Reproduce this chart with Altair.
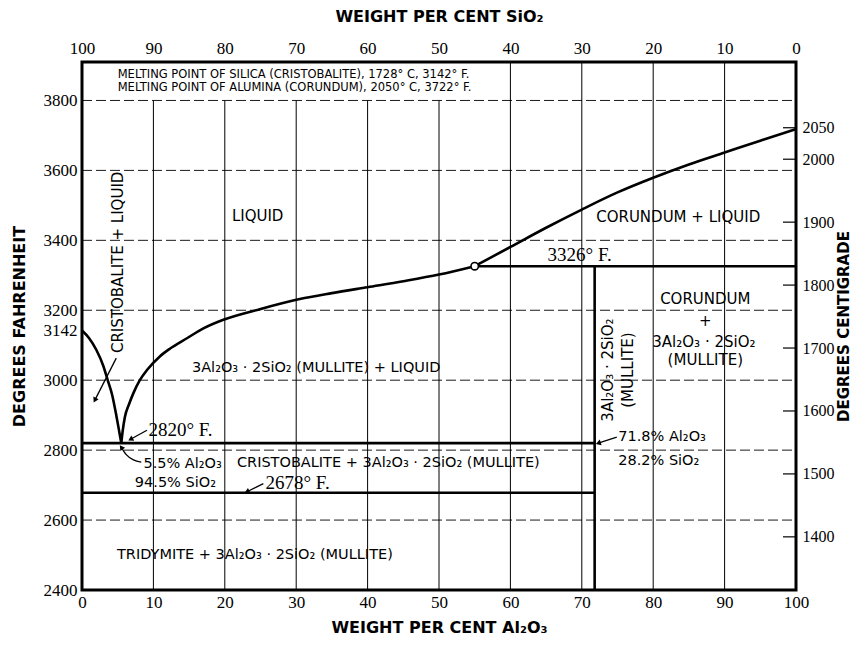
import math
import altair as alt
import pandas as pd

# ---------------- scales / extents ----------------
F_MIN, F_MAX = 2400, 3910
W, H = 714, 528


def f_to_c(f):
    return (f - 32) * 5 / 9


def c_to_f(c):
    return c * 9 / 5 + 32


# ---------------- axis tick values ----------------
x_ticks = [0, 10, 20, 30, 40, 50, 60, 70, 80, 90, 100]
f_ticks = [2400, 2600, 2800, 3000, 3142, 3200, 3400, 3600, 3800]
c_ticks = [1400, 1500, 1600, 1700, 1800, 1900, 2000, 2050]

# ---------------- liquidus curves ----------------
cristobalite_x = [0, 1, 2, 3, 3.6, 4.2, 4.8, 5.2, 5.5]
cristobalite_f = [3142, 3120, 3087, 3040, 3000, 2960, 2900, 2855, 2820]

mullite_x = [5.5, 5.7, 6.0, 6.6, 7.2, 8.1, 9.1, 10.9, 12.3, 14.7, 17, 19.7,
             24.9, 30.5, 35, 40, 45, 50, 55]
mullite_f = [2820, 2855, 2894, 2932, 2963, 3000, 3029, 3068, 3090, 3120, 3148,
             3172, 3203, 3232, 3249, 3266, 3283, 3302, 3326]

corundum_x = [55, 60, 65, 70, 75, 80, 85, 90, 95, 100]
corundum_f = [3326, 3381, 3436, 3488, 3537, 3579, 3617, 3651, 3685, 3718]

# ---------------- invariant lines ----------------
eutectic_x, eutectic_f = 5.5, 2820
tridymite_f = 2678
peritectic_x, peritectic_f = 55, 3326
mullite_comp = 71.8

# ---------------- grid ----------------
grid_x = [10, 20, 30, 40, 50, 60, 70, 80, 90]
grid_f = [2600, 2800, 3000, 3200, 3400, 3600, 3800]
text_box_f = 3800  # grid lines under the melting-point note stop here

# ---------------- annotations ----------------
note_text = ["MELTING POINT OF SILICA (CRISTOBALITE), 1728° C, 3142° F.",
             "MELTING POINT OF ALUMINA (CORUNDUM), 2050° C, 3722° F."]
note_x = [5.0, 5.0]
note_f = [3874, 3837]

center_text = ["LIQUID", "CORUNDUM + LIQUID", "CORUNDUM", "+",
               "3Al₂O₃ · 2SiO₂", "(MULLITE)"]
center_x = [24.6, 83.5, 87.3, 87.3, 87.1, 87.3]
center_f = [3471, 3466, 3231, 3169, 3109, 3057]

left_text = ["3Al₂O₃ · 2SiO₂ (MULLITE) + LIQUID", "5.5% Al₂O₃", "94.5% SiO₂",
             "CRISTOBALITE + 3Al₂O₃ · 2SiO₂ (MULLITE)",
             "TRIDYMITE + 3Al₂O₃ · 2SiO₂ (MULLITE)",
             "71.8% Al₂O₃", "28.2% SiO₂"]
left_x = [15.4, 8.6, 7.4, 21.7, 4.9, 75.1, 75.1]
left_f = [3034, 2760, 2706, 2762, 2500, 2837, 2769]

vert_text = ["CRISTOBALITE + LIQUID", "3Al₂O₃ · 2SiO₂", "(MULLITE)"]
vert_x = [5.0, 73.7, 76.5]
vert_f = [3337, 3029, 3029]

temp_text = ["3326° F.", "2820° F.", "2678° F."]
temp_x = [65.2, 9.3, 25.7]
temp_f = [3357, 2857, 2706]

# arrows: start -> end
arrow_x1 = [4.8, 9.1, 25.4, 74.9]
arrow_f1 = [3063, 2857, 2704, 2837]
arrow_x2 = [1.8, 6.8, 23.1, 72.3]
arrow_f2 = [2943, 2831, 2681, 2820]

curved_arrow_x = [8.3, 7.2, 6.2, 5.5]
curved_arrow_f = [2766, 2772, 2787, 2808]

# ---------------- build tables ----------------
kx = W / 100.0
ky = H / (F_MAX - F_MIN)

curves = pd.concat([
    pd.DataFrame({"x": cristobalite_x, "f": cristobalite_f, "s": "cristobalite"}),
    pd.DataFrame({"x": mullite_x, "f": mullite_f, "s": "mullite"}),
    pd.DataFrame({"x": corundum_x, "f": corundum_f, "s": "corundum"}),
], ignore_index=True)

segments = pd.DataFrame({
    "x": [0, 0, peritectic_x, mullite_comp],
    "x2": [mullite_comp, mullite_comp, 100, mullite_comp],
    "f": [eutectic_f, tridymite_f, peritectic_f, F_MIN],
    "f2": [eutectic_f, tridymite_f, peritectic_f, peritectic_f],
})

vgrid = pd.DataFrame({
    "x": grid_x,
    "f": [F_MIN] * len(grid_x),
    "f2": [text_box_f if gx <= 50 else F_MAX for gx in grid_x],
})
hgrid = pd.DataFrame({"f": grid_f, "x": [0] * len(grid_f), "x2": [100] * len(grid_f)})

rticks = pd.DataFrame({"f": [c_to_f(c) for c in c_ticks],
                       "x": [100 - 13 / kx] * len(c_ticks),
                       "x2": [100] * len(c_ticks)})

arrows = pd.DataFrame({"x": arrow_x1, "f": arrow_f1, "x2": arrow_x2, "f2": arrow_f2})
curved = pd.DataFrame({"x": curved_arrow_x, "f": curved_arrow_f,
                       "o": list(range(len(curved_arrow_x)))})


def head_angle(xa, fa, xb, fb):
    dx = (xb - xa) * kx
    dy = -(fb - fa) * ky
    return math.degrees(math.atan2(dx, -dy)) % 360


heads_x = arrow_x2 + [curved_arrow_x[-1]]
heads_f = arrow_f2 + [curved_arrow_f[-1]]
heads_a = [head_angle(a, b, c, d) for a, b, c, d in zip(arrow_x1, arrow_f1, arrow_x2, arrow_f2)]
heads_a.append(head_angle(curved_arrow_x[-2], curved_arrow_f[-2],
                          curved_arrow_x[-1], curved_arrow_f[-1]))
heads = pd.DataFrame({"x": heads_x, "f": heads_f, "a": heads_a})

point = pd.DataFrame({"x": [peritectic_x], "f": [peritectic_f]})

# ---------------- chart ----------------
SANS = "DejaVu Sans"
SERIF = "Liberation Serif"
xs = alt.Scale(domain=[0, 100], nice=False, zero=False)
ys = alt.Scale(domain=[F_MIN, F_MAX], nice=False, zero=False)

label_style = dict(labelFont=SERIF, labelColor="black", format="d",
                   labelFlush=False, labelOverlap=False,
                   titleFont=SANS, titleFontWeight="bold", titleColor="black",
                   domain=False, ticks=False, grid=False)

x_axis = alt.Axis(orient="bottom", values=x_ticks, title="WEIGHT PER CENT Al₂O₃",
                  labelFontSize=17, labelPadding=4, titlePadding=9, titleFontSize=16, **label_style)
y_axis = alt.Axis(orient="left", values=f_ticks, title="DEGREES FAHRENHEIT",
                  labelFontSize=17, labelPadding=5, titlePadding=16, titleFontSize=16, **label_style)


def X():
    return alt.X("x:Q", scale=xs, axis=x_axis)


def Y():
    return alt.Y("f:Q", scale=ys, axis=y_axis)


vgrid_l = alt.Chart(vgrid).mark_rule(color="black", strokeWidth=1).encode(
    x=X(), y=Y(), y2="f2:Q")
hgrid_l = alt.Chart(hgrid).mark_rule(color="black", strokeWidth=0.9, strokeDash=[10, 4]).encode(
    x=X(), x2="x2:Q", y=Y())
rticks_l = alt.Chart(rticks).mark_rule(color="black", strokeWidth=1.2).encode(
    x=X(), x2="x2:Q", y=Y())

seg_l = alt.Chart(segments).mark_rule(color="black", strokeWidth=2.6).encode(
    x=X(), x2="x2:Q", y=Y(), y2="f2:Q")
curve_l = alt.Chart(curves).mark_line(color="black", strokeWidth=2.6, interpolate="monotone").encode(
    x=X(), y=Y(), detail="s:N", order="x:Q")
point_l = alt.Chart(point).mark_point(shape="circle", size=55, filled=True, fill="white",
                                      stroke="black", strokeWidth=1.6, opacity=1).encode(x=X(), y=Y())

arrow_l = alt.Chart(arrows).mark_rule(color="black", strokeWidth=1.3).encode(
    x=X(), x2="x2:Q", y=Y(), y2="f2:Q")
curved_l = alt.Chart(curved).mark_line(color="black", strokeWidth=1.3, interpolate="monotone").encode(
    x=X(), y=Y(), order="o:Q")
heads_l = alt.Chart(heads).mark_point(shape="triangle-up", size=35, filled=True, color="black",
                                      opacity=1).encode(x=X(), y=Y(), angle=alt.Angle("a:Q", scale=None))

note_l = alt.Chart(pd.DataFrame({"x": note_x, "f": note_f, "t": note_text})).mark_text(
    font=SANS, fontSize=11.5, align="left", baseline="middle", color="black").encode(x=X(), y=Y(), text="t:N")
center_l = alt.Chart(pd.DataFrame({"x": center_x, "f": center_f, "t": center_text})).mark_text(
    font=SANS, fontSize=15, align="center", baseline="middle", color="black").encode(x=X(), y=Y(), text="t:N")
left_l = alt.Chart(pd.DataFrame({"x": left_x, "f": left_f, "t": left_text})).mark_text(
    font=SANS, fontSize=14.5, align="left", baseline="middle", color="black").encode(x=X(), y=Y(), text="t:N")
vert_l = alt.Chart(pd.DataFrame({"x": vert_x, "f": vert_f, "t": vert_text})).mark_text(
    font=SANS, fontSize=15, align="center", baseline="middle", angle=270, color="black").encode(
    x=X(), y=Y(), text="t:N")
temp_l = alt.Chart(pd.DataFrame({"x": temp_x, "f": temp_f, "t": temp_text})).mark_text(
    font=SERIF, fontSize=19, align="left", baseline="middle", color="black").encode(x=X(), y=Y(), text="t:N")

inner = alt.layer(vgrid_l, hgrid_l, rticks_l, seg_l, curve_l, point_l,
                  arrow_l, curved_l, heads_l, note_l, center_l, left_l, vert_l, temp_l)

top_right = alt.Chart(pd.DataFrame({"x": [0], "c": [1500]})).mark_point(opacity=0).encode(
    x=alt.X("x:Q", scale=alt.Scale(domain=[0, 100], nice=False, zero=False), axis=alt.Axis(
        orient="top", values=x_ticks, labelExpr="100 - datum.value", title="WEIGHT PER CENT SiO₂",
        labelFontSize=17, labelPadding=5, titlePadding=15, titleFontSize=16, **label_style)),
    y=alt.Y("c:Q", scale=alt.Scale(domain=[f_to_c(F_MIN), f_to_c(F_MAX)], nice=False, zero=False),
            axis=alt.Axis(orient="right", values=c_ticks, title="DEGREES CENTIGRADE", titleAngle=270,
                          labelFontSize=16, labelPadding=6, titlePadding=17, titleFontSize=15,
                          **label_style)),
)

chart = alt.layer(inner, top_right).resolve_scale(x="independent", y="independent").properties(
    width=W, height=H,
    autosize=alt.AutoSizeParams(type="none"),
    padding={"left": 74, "top": 54, "right": 55, "bottom": 47},
    background="white",
).configure_view(stroke="black", strokeWidth=3)

chart.save("out.html", embed_options={"renderer": "svg", "actions": False})
